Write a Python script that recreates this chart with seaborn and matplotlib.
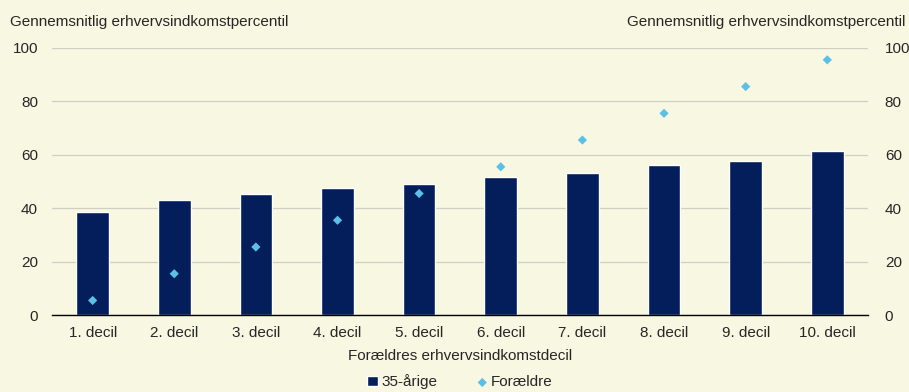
import numpy as np
import pandas as pd
import seaborn as sns
import matplotlib.pyplot as plt

deciles = ['1. decil', '2. decil', '3. decil', '4. decil', '5. decil',
           '6. decil', '7. decil', '8. decil', '9. decil', '10. decil']
aarige_35 = [38.5, 43.0, 45.5, 47.5, 49.0, 51.5, 53.0, 56.0, 57.5, 61.5]
foraeldre = [5.5, 15.5, 25.5, 35.5, 45.5, 55.5, 65.5, 75.5, 85.5, 95.5]

df = pd.DataFrame({'decil': deciles, '35-årige': aarige_35, 'Forældre': foraeldre})

bg = '#f8f7e1'
sns.set_style('white')
plt.rcParams['font.family'] = ['Liberation Sans', 'DejaVu Sans']
plt.rcParams['font.size'] = 11

fig, ax = plt.subplots(figsize=(9.09, 3.92), dpi=100)
fig.patch.set_facecolor(bg)
ax.set_facecolor(bg)
fig.subplots_adjust(left=0.057, right=0.955, top=0.878, bottom=0.196)

sns.barplot(data=df, x='decil', y='35-årige', color='#031e5a', width=0.4,
            ax=ax, label='35-årige', zorder=2, saturation=1)
sns.scatterplot(data=df, x='decil', y='Forældre', marker='D', s=22, color='#5bc0e8',
                edgecolor='none', ax=ax, label='Forældre', zorder=3)

ax.set_ylim(0, 100)
ax.set_xlim(-0.5, 9.5)
ax.set_yticks(range(0, 101, 20))
ax.grid(axis='y', color='#cfcfc4', linewidth=0.9, zorder=0)
ax.set_axisbelow(True)
for s in ['top', 'right', 'left']:
    ax.spines[s].set_visible(False)
ax.spines['bottom'].set_color('black')
ax.spines['bottom'].set_linewidth(1.0)

# tick marks between categories
ax.set_xticks(np.arange(-0.5, 10, 1), minor=True)
ax.tick_params(axis='x', which='major', length=0, pad=8)
ax.tick_params(axis='x', which='minor', length=5, width=1, color='black', direction='out')
ax.tick_params(axis='y', length=0, pad=10)
ax.set_xlabel('Forældres erhvervsindkomstdecil', labelpad=6)
ax.set_ylabel('')

ax2 = ax.twinx()
ax2.set_ylim(0, 100)
ax2.set_yticks(range(0, 101, 20))
for s in ax2.spines.values():
    s.set_visible(False)
ax2.tick_params(axis='y', length=0, pad=12)

fig.text(0.011, 0.945, 'Gennemsnitlig erhvervsindkomstpercentil', ha='left', va='center')
fig.text(0.996, 0.945, 'Gennemsnitlig erhvervsindkomstpercentil', ha='right', va='center')

handles, labels = ax.get_legend_handles_labels()
order = [labels.index('35-årige'), labels.index('Forældre')]
ax.legend([handles[i] for i in order], [labels[i] for i in order],
          loc='center', bbox_to_anchor=(0.5, -0.25), ncol=2, frameon=False,
          handlelength=0.7, handletextpad=0.2, columnspacing=2.6, markerscale=1,
          borderpad=0)

fig.savefig('out.png', dpi=100, facecolor=bg)
